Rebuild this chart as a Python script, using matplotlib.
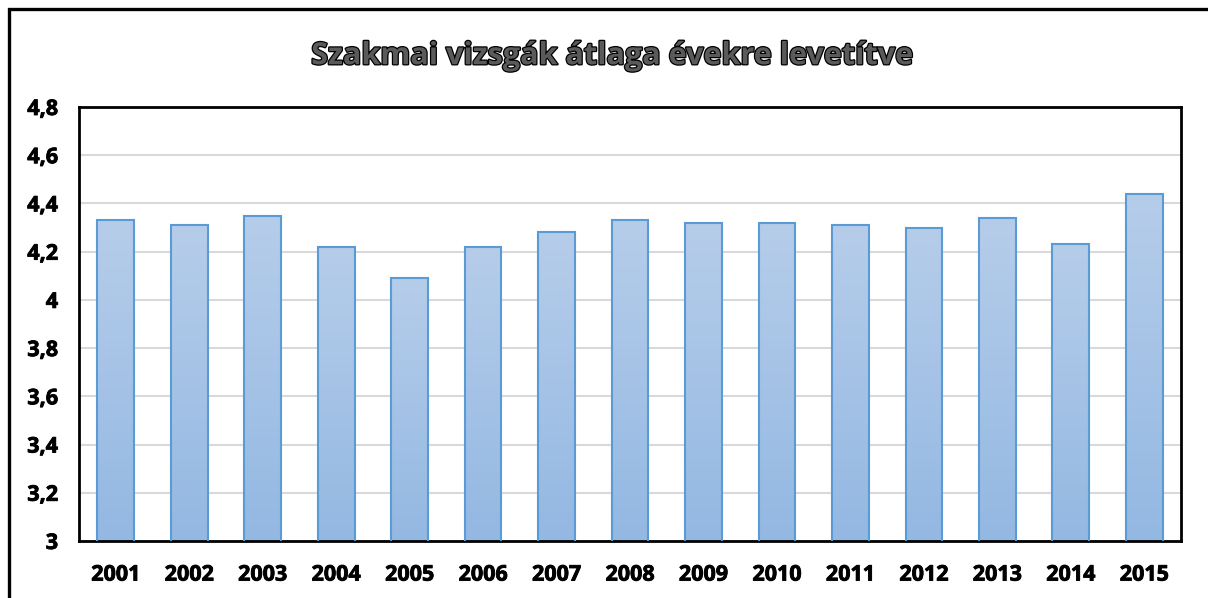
import numpy as np
import matplotlib.pyplot as plt
import matplotlib.patheffects as pe
from matplotlib.colors import LinearSegmentedColormap
from matplotlib.patches import Rectangle
from matplotlib.ticker import FuncFormatter, MultipleLocator

# Data
years = ['2001', '2002', '2003', '2004', '2005', '2006', '2007', '2008',
         '2009', '2010', '2011', '2012', '2013', '2014', '2015']
averages = [4.33, 4.31, 4.35, 4.22, 4.09, 4.22, 4.28, 4.33,
            4.32, 4.32, 4.31, 4.30, 4.34, 4.23, 4.44]
title = 'Szakmai vizsgák átlaga évekre levetítve'

plt.rcParams['font.family'] = ['Open Sans', 'DejaVu Sans']

fig = plt.figure(figsize=(12.08, 5.98), dpi=100)
ax = fig.add_axes([79 / 1208, 57 / 598, 1102 / 1208, 434 / 598])

# outer chart frame (runs off the right and bottom edges)
fig.patches.append(Rectangle((9 / 1208, -0.05), 1.0, (589 / 598) + 0.05,
                             transform=fig.transFigure, fill=False,
                             edgecolor='black', linewidth=2.4))

x = np.arange(len(years))
bars = ax.bar(x, averages, width=0.5, bottom=0, color='none',
              edgecolor='#5b9bd5', linewidth=1.5, zorder=3)

# vertical gradient inside each bar
cmap = LinearSegmentedColormap.from_list('bar', ['#93b8e2', '#b6cdea'])
grad = np.linspace(0, 1, 256).reshape(-1, 1)
for b in bars:
    im = ax.imshow(grad, cmap=cmap, origin='lower', aspect='auto',
                   extent=(b.get_x(), b.get_x() + b.get_width(), 3, b.get_height()),
                   zorder=2)
    im.set_clip_path(b)

ax.set_xlim(-0.5, len(years) - 0.5)
ax.set_ylim(3, 4.8)
ax.yaxis.set_major_locator(MultipleLocator(0.2))
ax.yaxis.set_major_formatter(FuncFormatter(lambda v, p: f'{round(v, 1):g}'.replace('.', ',')))
ax.set_xticks(x)
ax.set_xticklabels(years)
ax.grid(axis='y', color='#d9d9d9', linewidth=1.5, zorder=0)
ax.set_axisbelow(True)
ax.tick_params(length=0, labelsize=15.5)
ax.tick_params(axis='y', pad=15)
ax.tick_params(axis='x', pad=17)
for lbl in ax.get_xticklabels() + ax.get_yticklabels():
    lbl.set_fontweight('bold')
    lbl.set_path_effects([pe.withStroke(linewidth=0.6, foreground='black')])
for s in ax.spines.values():
    s.set_color('black')
    s.set_linewidth(2)

fig.text(0.506, 0.906, title, ha='center', va='center', fontsize=22,
         fontweight='bold', color='#5a5a5a',
         path_effects=[pe.withStroke(linewidth=1.8, foreground='black')])

fig.savefig('out.png', dpi=100)
